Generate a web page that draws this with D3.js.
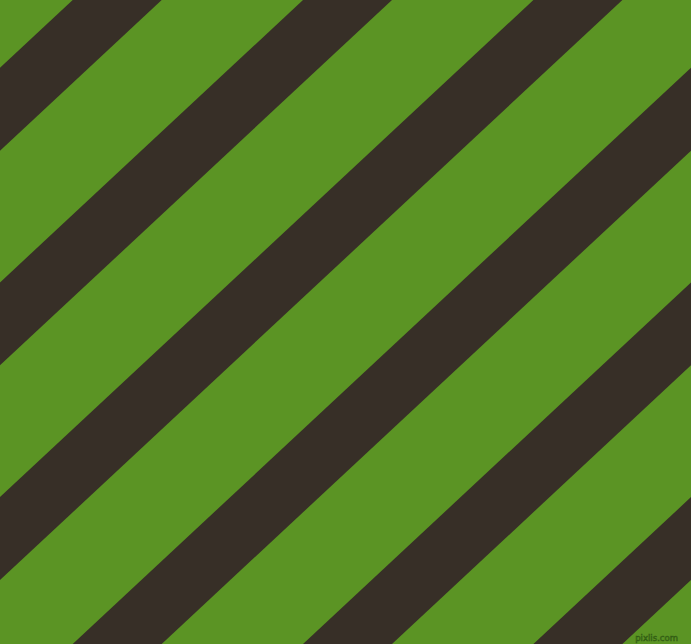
<!DOCTYPE html>
<html>
<head>
<meta charset="utf-8">
<script src="https://cdn.jsdelivr.net/npm/d3@7"></script>
<style>
html,body{margin:0;padding:0;background:#5b9424;overflow:hidden;}
svg{display:block;}
</style>
</head>
<body>
<script>
// Stripe indices (one dark band each) and the pattern parameters
const stripeIndex = [0, 1, 2, 3, 4, 5];
const bandStart = [72.7, 303.0, 533.4, 763.7, 994.0, 1224.4]; // x where each band meets the top edge
const bandWidthX = [89];          // horizontal width of each band
const watermark = ["pixlis.com"];

const W = 691, H = 644;
const bg = "#5b9424", dark = "#372f27";

const svg = d3.select("body").append("svg").attr("width", W).attr("height", H);
svg.append("rect").attr("width", W).attr("height", H).attr("fill", bg);

// scale: vertical position -> horizontal shift of a band (bands rise to the right at ~43°)
const shift = d3.scaleLinear().domain([0, H]).range([0, W]);

const line = d3.line();
svg.append("g").selectAll("path")
  .data(stripeIndex)
  .join("path")
  .attr("d", i => {
    const a = bandStart[i], b = a + bandWidthX[0];
    return line([[a, 0], [b, 0], [b - shift(H), H], [a - shift(H), H]]) + "Z";
  })
  .attr("fill", dark);

svg.append("text")
  .attr("x", 678).attr("y", 641)
  .attr("text-anchor", "end")
  .attr("font-family", "DejaVu Sans, sans-serif")
  .attr("font-size", 8.5)
  .attr("fill", "#4f8220")
  .attr("stroke", "#2f5a12")
  .attr("stroke-width", 0.5)
  .text(watermark[0]);
</script>
</body>
</html>
